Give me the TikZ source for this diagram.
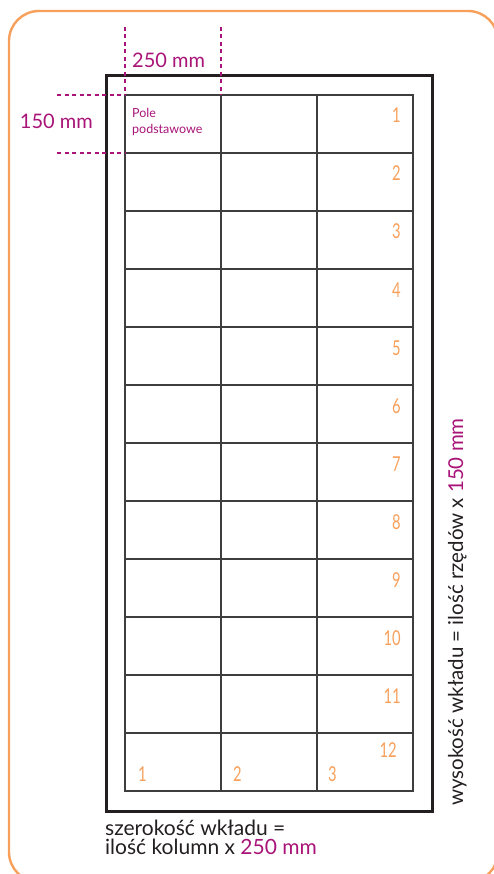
\documentclass[tikz,border=0pt]{standalone}
\usepackage{fontspec}
\usepackage{graphicx}
\setmainfont{Lato}
\definecolor{frameorange}{RGB}{247,160,92}
\definecolor{mag}{RGB}{168,20,120}
\definecolor{ink}{RGB}{35,31,32}
\definecolor{gridc}{RGB}{62,62,62}
\tikzset{
  cell/.style={draw=gridc, line width=1.4pt, minimum width=96pt, minimum height=58pt, inner sep=0pt, outer sep=0pt, anchor=north west},
  dim/.style={mag, dashed, dash pattern=on 4pt off 3.5pt, line width=1.2pt},
  num/.style={frameorange, inner sep=0pt, font=\fontsize{20.5}{20.5}\selectfont},
  magtext/.style={mag, inner sep=0pt, font=\fontsize{20}{20}\selectfont},
  inktext/.style={ink, inner sep=0pt, font=\fontsize{21}{21}\selectfont},
}
\newcommand{\cnd}[1]{\scalebox{0.72}[1]{#1}}
\begin{document}
\begin{tikzpicture}[x=1pt,y=-1pt]
\useasboundingbox (0,0) rectangle (494,874);
\begin{scope}
\clip (0,0) rectangle (494,874);
\draw[frameorange, line width=2.4pt, rounded corners=30pt] (9,11) rectangle (498,882);
\end{scope}
% frame
\draw[ink, line width=3pt] (106,76) rectangle (432,811);
% grid
\foreach \i in {0,1,2}{
  \foreach \j in {0,...,11}{
    \node[cell] (c-\i-\j) at ({125+96*\i},{95+58*\j}) {};
  }
}
% dimension lines
\coordinate (vt1) at (125,27);
\coordinate (vt2) at (221,27);
\coordinate (hl1) at (57,95);
\coordinate (hl2) at (57,153);
\draw[dim] (vt1) -- (c-0-0.north west);
\draw[dim] (vt2) -- (c-1-0.north west);
\draw[dim] (hl1) -- (c-0-0.north west);
\draw[dim] (hl2) -- (c-0-0.south west);
% labels
\node[magtext, anchor=base west] (w250) at (132,68) {250 mm};
\node[magtext, anchor=base east] (h150) at (93,129) {150 mm};
\node[mag, inner sep=0pt, anchor=base west, font=\fontsize{12.5}{12.5}\selectfont] (pole1) at (132,118) {Pole};
\node[mag, inner sep=0pt, anchor=base west, font=\fontsize{12.5}{12.5}\selectfont] (pole2) at (132,134) {podstawowe};
% row numbers
\foreach \r in {1,...,11}{
  \node[num, anchor=base east] (r\r) at (401,{95+58*(\r-1)+28}) {\cnd{\r}};
}
\node[num, anchor=base east] (r12) at (397,757) {\cnd{12}};
% column numbers
\node[num, anchor=base west] (k1) at (138,781) {\cnd{1}};
\node[num, anchor=base west] (k2) at (233,781) {\cnd{2}};
\node[num, anchor=base west] (k3) at (328,781) {\cnd{3}};
% bottom text
\node[inktext, anchor=base west] (sz1) at (105,835) {szerokość wkładu =};
\node[inktext, anchor=base west] (sz2) at (105,854) {ilość kolumn x \textcolor{mag}{250 mm}};
% side text
\node[ink, inner sep=0pt, font=\fontsize{20.5}{20.5}\selectfont, anchor=base, rotate=90] (wys) at (463,612) {wysokość wkładu = ilość rzędów x \textcolor{mag}{150 mm}};
\end{tikzpicture}
\end{document}
